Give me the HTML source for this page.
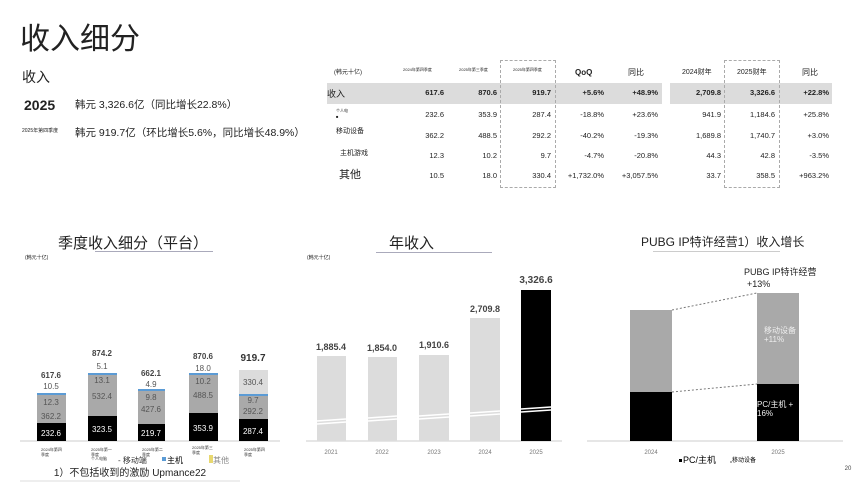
<!DOCTYPE html><html><head><meta charset="utf-8"><style>
body{margin:0;width:854px;height:486px;background:#fff;position:relative;overflow:hidden;font-family:"Liberation Sans","Noto Sans CJK SC",sans-serif;color:#222}
.a{position:absolute;white-space:nowrap}
.r{text-align:right}
</style></head><body>
<div class="a" style="left:20px;top:14px;font-size:30px">收入细分</div>
<div class="a" style="left:22px;top:67px;font-size:14px">收入</div>
<div class="a" style="left:24px;top:97px;font-size:14px;font-weight:bold">2025</div>
<div class="a" style="left:75px;top:97px;font-size:10.5px">韩元 3,326.6亿（同比增长22.8%）</div>
<div class="a" style="left:22px;top:127px;font-size:5px">2025年第四季度</div>
<div class="a" style="left:75px;top:125px;font-size:10.5px">韩元 919.7亿（环比增长5.6%，同比增长48.9%）</div>

<div class="a" style="left:327px;top:83px;width:335px;height:21px;background:#dcdcdc"></div>
<div class="a" style="left:670px;top:83px;width:162px;height:21px;background:#dcdcdc"></div>
<div class="a" style="left:500px;top:60px;width:54px;height:126px;border:1px dashed #aaa"></div>
<div class="a" style="left:724px;top:60px;width:54px;height:126px;border:1px dashed #aaa"></div>
<div class="a" style="left:334px;top:67px;font-size:6px">(韩元十亿)</div>
<div class="a" style="left:403px;top:67px;font-size:4px">2024年第四季度</div>
<div class="a" style="left:459px;top:67px;font-size:4px">2025年第三季度</div>
<div class="a" style="left:513px;top:67px;font-size:4px">2025年第四季度</div>
<div class="a" style="left:575px;top:68px;font-size:8px;font-weight:bold">QoQ</div>
<div class="a" style="left:628px;top:67px;font-size:8px">同比</div>
<div class="a" style="left:682px;top:67px;font-size:7px">2024财年</div>
<div class="a" style="left:737px;top:67px;font-size:7px">2025财年</div>
<div class="a" style="left:802px;top:67px;font-size:8px">同比</div>
<div class="a" style="left:327px;top:87px;font-size:9px">收入</div>
<div class="a" style="left:336px;top:108px;font-size:4px">个人电<br>■</div>
<div class="a" style="left:336px;top:126px;font-size:7px">移动设备</div>
<div class="a" style="left:340px;top:148px;font-size:7px">主机游戏</div>
<div class="a" style="left:339px;top:166px;font-size:11px">其他</div>
<div class="a" style="left:0;top:0;font-size:7.5px">
<div class="a r" style="left:394px;top:88px;width:50px;font-weight:bold">617.6</div>
<div class="a r" style="left:447px;top:88px;width:50px;font-weight:bold">870.6</div>
<div class="a r" style="left:501px;top:88px;width:50px;font-weight:bold">919.7</div>
<div class="a r" style="left:554px;top:88px;width:50px;font-weight:bold">+5.6%</div>
<div class="a r" style="left:608px;top:88px;width:50px;font-weight:bold">+48.9%</div>
<div class="a r" style="left:671px;top:88px;width:50px;font-weight:bold">2,709.8</div>
<div class="a r" style="left:725px;top:88px;width:50px;font-weight:bold">3,326.6</div>
<div class="a r" style="left:779px;top:88px;width:50px;font-weight:bold">+22.8%</div>

<div class="a r" style="left:394px;top:110px;width:50px">232.6</div><div class="a r" style="left:447px;top:110px;width:50px">353.9</div><div class="a r" style="left:501px;top:110px;width:50px">287.4</div><div class="a r" style="left:554px;top:110px;width:50px">-18.8%</div><div class="a r" style="left:608px;top:110px;width:50px">+23.6%</div><div class="a r" style="left:671px;top:110px;width:50px">941.9</div><div class="a r" style="left:725px;top:110px;width:50px">1,184.6</div><div class="a r" style="left:779px;top:110px;width:50px">+25.8%</div>

<div class="a r" style="left:394px;top:131px;width:50px">362.2</div><div class="a r" style="left:447px;top:131px;width:50px">488.5</div><div class="a r" style="left:501px;top:131px;width:50px">292.2</div><div class="a r" style="left:554px;top:131px;width:50px">-40.2%</div><div class="a r" style="left:608px;top:131px;width:50px">-19.3%</div><div class="a r" style="left:671px;top:131px;width:50px">1,689.8</div><div class="a r" style="left:725px;top:131px;width:50px">1,740.7</div><div class="a r" style="left:779px;top:131px;width:50px">+3.0%</div>

<div class="a r" style="left:394px;top:151px;width:50px">12.3</div><div class="a r" style="left:447px;top:151px;width:50px">10.2</div><div class="a r" style="left:501px;top:151px;width:50px">9.7</div><div class="a r" style="left:554px;top:151px;width:50px">-4.7%</div><div class="a r" style="left:608px;top:151px;width:50px">-20.8%</div><div class="a r" style="left:671px;top:151px;width:50px">44.3</div><div class="a r" style="left:725px;top:151px;width:50px">42.8</div><div class="a r" style="left:779px;top:151px;width:50px">-3.5%</div>

<div class="a r" style="left:394px;top:171px;width:50px">10.5</div><div class="a r" style="left:447px;top:171px;width:50px">18.0</div><div class="a r" style="left:501px;top:171px;width:50px">330.4</div><div class="a r" style="left:544px;top:171px;width:60px">+1,732.0%</div><div class="a r" style="left:598px;top:171px;width:60px">+3,057.5%</div><div class="a r" style="left:671px;top:171px;width:50px">33.7</div><div class="a r" style="left:725px;top:171px;width:50px">358.5</div><div class="a r" style="left:779px;top:171px;width:50px">+963.2%</div>
</div>

<div class="a" style="left:58px;top:232px;font-size:15px">季度收入细分（平台）</div>
<div class="a" style="left:95px;top:251px;width:118px;border-top:1px solid #aab"></div>
<div class="a" style="left:389px;top:232px;font-size:15px">年收入</div>
<div class="a" style="left:376px;top:252px;width:116px;border-top:1px solid #aab"></div>
<div class="a" style="left:641px;top:233px;font-size:12px">PUBG IP特许经营1）收入增长</div>
<div class="a" style="left:653px;top:251px;width:127px;border-top:1px solid #ccc"></div>
<div class="a" style="left:25px;top:254px;font-size:5px">(韩元十亿)</div>
<div class="a" style="left:307px;top:254px;font-size:5px">(韩元十亿)</div>

<svg class="a" style="left:0;top:0" width="854" height="486">
<g font-family="Liberation Sans, Noto Sans CJK SC, sans-serif" text-anchor="middle">
<line x1="20" y1="441" x2="280" y2="441" stroke="#ccc"/>
<rect x="37" y="394" width="29" height="47" fill="#a9a9a9"/><rect x="37" y="423" width="29" height="18" fill="#000"/><rect x="37" y="393" width="29" height="2" fill="#5b9bd5"/>
<rect x="88" y="374" width="29" height="67" fill="#a9a9a9"/><rect x="88" y="416" width="29" height="25" fill="#000"/><rect x="88" y="373" width="29" height="2" fill="#5b9bd5"/>
<rect x="138" y="390" width="27" height="51" fill="#a9a9a9"/><rect x="138" y="424" width="27" height="17" fill="#000"/><rect x="138" y="389" width="27" height="2" fill="#5b9bd5"/>
<rect x="189" y="374" width="29" height="67" fill="#a9a9a9"/><rect x="189" y="413" width="29" height="28" fill="#000"/><rect x="189" y="373" width="29" height="2" fill="#5b9bd5"/>
<rect x="239" y="370" width="29" height="25" fill="#dcdcdc"/><rect x="239" y="395" width="29" height="46" fill="#a9a9a9"/><rect x="239" y="419" width="29" height="22" fill="#000"/><rect x="239" y="394" width="29" height="2" fill="#5b9bd5"/>
<g font-size="8" fill="#555">
<text x="51" y="378" font-weight="bold" fill="#444">617.6</text><text x="51" y="389">10.5</text><text x="51" y="405">12.3</text><text x="51" y="419">362.2</text><text x="51" y="436" fill="#fff">232.6</text>
<text x="102" y="356" font-weight="bold" fill="#444">874.2</text><text x="102" y="369">5.1</text><text x="102" y="383">13.1</text><text x="102" y="399">532.4</text><text x="102" y="432" fill="#fff">323.5</text>
<text x="151" y="376" font-weight="bold" fill="#444">662.1</text><text x="151" y="387">4.9</text><text x="151" y="400">9.8</text><text x="151" y="412">427.6</text><text x="151" y="436" fill="#fff">219.7</text>
<text x="203" y="359" font-weight="bold" fill="#444">870.6</text><text x="203" y="371">18.0</text><text x="203" y="384">10.2</text><text x="203" y="398">488.5</text><text x="203" y="431" fill="#fff">353.9</text>
<text x="253" y="361" font-weight="bold" font-size="10" fill="#333">919.7</text><text x="253" y="385">330.4</text><text x="253" y="403">9.7</text><text x="253" y="414">292.2</text><text x="253" y="434" fill="#fff">287.4</text>
</g>
<g font-size="4" fill="#333" text-anchor="start"><text x="41" y="451">2024年第四</text><text x="41" y="456">季度</text><text x="91" y="451">2025年第一</text><text x="91" y="456">季度</text><text x="91" y="460">个人电脑</text><text x="142" y="451">2025年第二</text><text x="142" y="456">季度</text><text x="192" y="449">2025年第三</text><text x="192" y="454">季度</text><text x="244" y="451">2025年第四</text><text x="244" y="456">季度</text></g>
<g font-size="8" text-anchor="start"><text x="118" y="463" fill="#333">- 移动端</text><rect x="162" y="457" width="4" height="4" fill="#5b9bd5"/><text x="167" y="463">主机</text><rect x="209" y="455" width="4" height="8" fill="#e8d870"/><text x="213" y="463" fill="#888">其他</text></g>
<text x="130" y="476" font-size="10" fill="#222">1）不包括收到的激励 Upmance22</text>
<line x1="20" y1="481" x2="240" y2="481" stroke="#ddd"/>

<line x1="306" y1="441" x2="562" y2="441" stroke="#ccc"/>
<rect x="317" y="356" width="29" height="85" fill="#dcdcdc"/><rect x="368" y="357" width="29" height="84" fill="#dcdcdc"/><rect x="419" y="355" width="30" height="86" fill="#dcdcdc"/><rect x="470" y="318" width="30" height="123" fill="#dcdcdc"/><rect x="521" y="290" width="30" height="151" fill="#000"/>
<g stroke="#fff" stroke-width="1.5"><line x1="317" y1="421" x2="346" y2="419"/><line x1="317" y1="424" x2="346" y2="422"/><line x1="368" y1="418" x2="397" y2="416"/><line x1="368" y1="421" x2="397" y2="419"/><line x1="419" y1="416" x2="449" y2="414"/><line x1="419" y1="419" x2="449" y2="417"/><line x1="470" y1="413" x2="500" y2="411"/><line x1="470" y1="416" x2="500" y2="414"/><line x1="521" y1="409" x2="551" y2="407"/><line x1="521" y1="412" x2="551" y2="410"/></g>
<g font-size="9" font-weight="bold" fill="#444"><text x="331" y="350">1,885.4</text><text x="382" y="351">1,854.0</text><text x="434" y="348">1,910.6</text><text x="485" y="312">2,709.8</text><text x="536" y="283" font-size="10">3,326.6</text></g>
<g font-size="6" fill="#777"><text x="331" y="454">2021</text><text x="382" y="454">2022</text><text x="434" y="454">2023</text><text x="485" y="454">2024</text><text x="536" y="454">2025</text></g>

<line x1="587" y1="441" x2="843" y2="441" stroke="#ccc"/>
<rect x="630" y="310" width="42" height="131" fill="#a9a9a9"/><rect x="630" y="392" width="42" height="49" fill="#000"/>
<rect x="757" y="293" width="42" height="148" fill="#a9a9a9"/><rect x="757" y="384" width="42" height="57" fill="#000"/>
<g stroke="#777" stroke-dasharray="2,2"><line x1="672" y1="310" x2="757" y2="293"/><line x1="672" y1="392" x2="757" y2="384"/></g>
<g font-size="9" fill="#222" text-anchor="start"><text x="744" y="275">PUBG IP特许经营</text><text x="747" y="287">+13%</text></g>
<g font-size="8" fill="#eee" text-anchor="start"><text x="764" y="333">移动设备</text><text x="764" y="342">+11%</text><text x="757" y="407">PC/主机 +</text><text x="757" y="416">16%</text></g>
<g font-size="6" fill="#777"><text x="651" y="454">2024</text><text x="778" y="454">2025</text></g>
<g font-size="9" text-anchor="start"><rect x="679" y="459" width="3" height="3" fill="#000"/><text x="683" y="463">PC/主机</text><rect x="730" y="461" width="2" height="2" fill="#aaa"/><text x="732" y="462" font-size="6">移动设备</text></g>
<text x="848" y="470" font-size="6" fill="#444">20</text>
</g></svg>
</body></html>
